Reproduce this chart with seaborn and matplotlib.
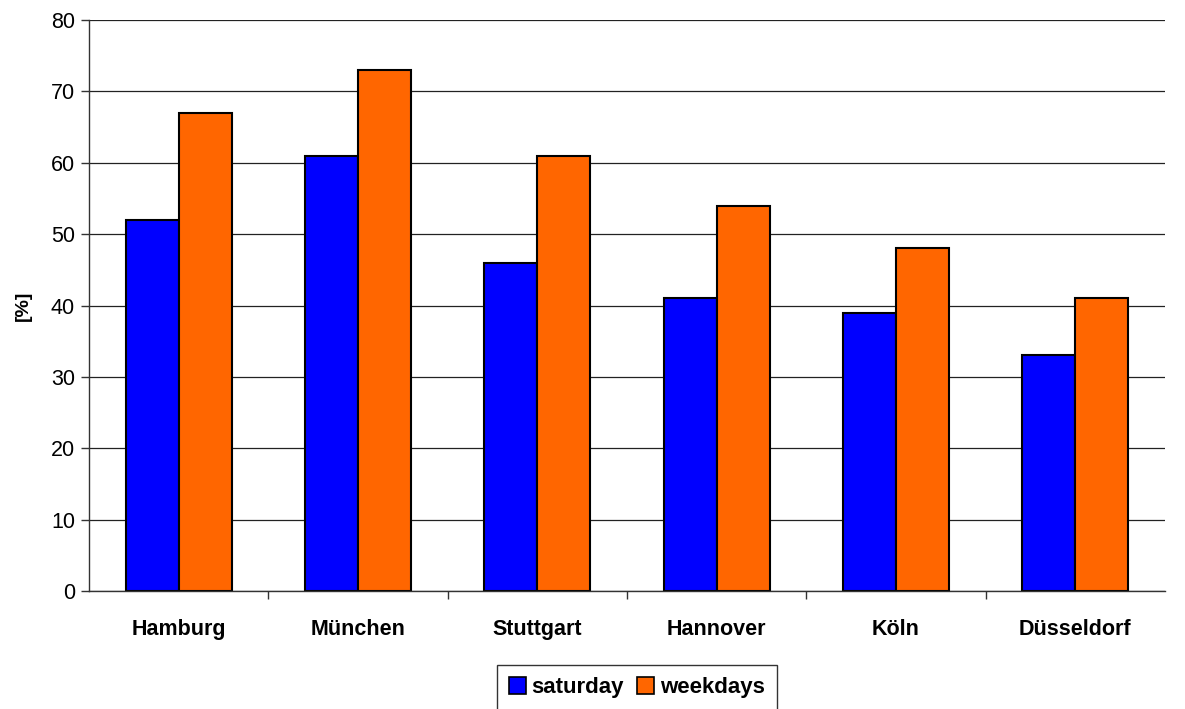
import matplotlib
matplotlib.use("Agg")
import matplotlib.pyplot as plt
from matplotlib.ticker import FixedLocator, MultipleLocator
from matplotlib.patches import Patch
import seaborn as sns
import pandas as pd

cities = ["Hamburg", "München", "Stuttgart", "Hannover", "Köln", "Düsseldorf"]
saturday = [52, 61, 46, 41, 39, 33]
weekdays = [67, 73, 61, 54, 48, 41]
series_names = ["saturday", "weekdays"]
colors = ["#0000FF", "#FF6600"]

df = pd.DataFrame({
    "city": cities * 2,
    "value": saturday + weekdays,
    "series": [series_names[0]] * len(cities) + [series_names[1]] * len(cities),
})

sns.set_theme(style="white")
plt.rcParams["font.family"] = ["Liberation Sans", "DejaVu Sans"]
plt.rcParams["text.color"] = "black"
plt.rcParams["axes.labelcolor"] = "black"
plt.rcParams["xtick.color"] = "black"
plt.rcParams["ytick.color"] = "black"

fig = plt.figure(figsize=(11.85, 7.09), dpi=100)
ax = fig.add_axes([89 / 1185, 1 - 591 / 709, (1165 - 89) / 1185, (591 - 20) / 709])

sns.barplot(data=df, x="city", y="value", hue="series", order=cities,
            hue_order=series_names, palette=colors, width=0.59, gap=0,
            edgecolor="black", linewidth=1.5, saturation=1, ax=ax, legend=False)

ax.set_xlim(-0.5, len(cities) - 0.5)
ax.set_ylim(0, 80)
ax.yaxis.set_major_locator(MultipleLocator(10))
ax.yaxis.grid(True, color="#222222", linewidth=0.9)
ax.set_axisbelow(True)

for side in ["top", "right"]:
    ax.spines[side].set_visible(False)
for side in ["left", "bottom"]:
    ax.spines[side].set_color("#333333")
    ax.spines[side].set_linewidth(1.0)

ax.tick_params(axis="y", which="major", left=True, length=6, width=1,
               color="#333333", labelcolor="black", labelsize=15.5, pad=4)
ax.tick_params(axis="x", which="major", bottom=False, labelcolor="black",
               labelsize=15.5, pad=14)
ax.xaxis.set_minor_locator(FixedLocator([i + 0.5 for i in range(len(cities) - 1)]))
ax.tick_params(axis="x", which="minor", bottom=True, length=6, width=1,
               color="#333333")
for lbl in ax.get_xticklabels():
    lbl.set_fontweight("bold")

ax.set_xlabel("")
ax.set_ylabel("[%]", fontsize=14, fontweight="bold", color="black", labelpad=14)

handles = [Patch(facecolor=c, edgecolor="black", linewidth=1.2) for c in colors]
leg = fig.legend(handles, series_names, loc="upper center",
                 bbox_to_anchor=(637 / 1185, 1 - 665 / 709), ncol=2,
                 frameon=True, fancybox=False, edgecolor="black",
                 prop={"weight": "bold", "size": 16}, handlelength=0.75,
                 handleheight=0.75, handletextpad=0.25, columnspacing=0.6,
                 borderpad=0.55, borderaxespad=0)
leg.get_frame().set_linewidth(1.0)
for t in leg.get_texts():
    t.set_color("black")

fig.savefig("out.png", dpi=100)
